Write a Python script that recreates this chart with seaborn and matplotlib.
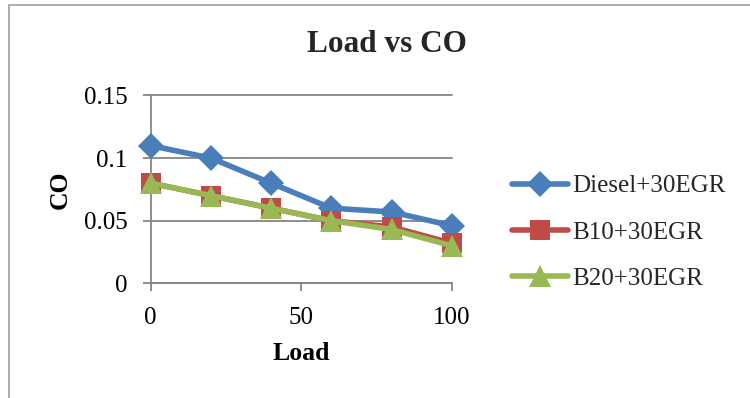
import matplotlib
matplotlib.use("Agg")
import matplotlib.pyplot as plt
import seaborn as sns
import pandas as pd
from matplotlib.patches import Rectangle
from matplotlib.ticker import FuncFormatter

load = [0, 20, 40, 60, 80, 100]
diesel = [0.11, 0.10, 0.08, 0.06, 0.057, 0.046]
b10 = [0.08, 0.07, 0.06, 0.05, 0.045, 0.032]
b20 = [0.08, 0.07, 0.06, 0.05, 0.043, 0.030]
series_names = ["Diesel+30EGR", "B10+30EGR", "B20+30EGR"]
colors = ["#4A7EBB", "#BE4B48", "#98B954"]
markers = ["D", "s", "^"]
msizes = [13, 14.5, 15.5]

sns.set_theme(style="white")
plt.rcParams["font.family"] = ["Liberation Serif", "DejaVu Serif"]

fig = plt.figure(figsize=(7.5, 3.98), dpi=100)
ax = fig.add_axes([150.7/750, 1-283.3/398, (451.7-150.7)/750, (283.3-95.5)/398])

for name, vals, c, m, ms in zip(series_names, [diesel, b10, b20], colors, markers, msizes):
    df = pd.DataFrame({"Load": load, "CO": vals})
    sns.lineplot(data=df, x="Load", y="CO", ax=ax, color=c, marker=m,
                 markersize=ms, linewidth=4.0, markeredgewidth=0,
                 label=name, clip_on=False, zorder=3)

ax.set_xlim(0, 100)
ax.set_ylim(0, 0.15)
ax.set_xticks([0, 50, 100])
ax.set_yticks([0, 0.05, 0.10, 0.15])
ax.yaxis.set_major_formatter(FuncFormatter(lambda v, p: "%g" % round(v, 3)))

gc = "#868686"
ax.yaxis.grid(True, color=gc, linewidth=1.3)
ax.xaxis.grid(False)
for gl in ax.get_ygridlines():
    gl.set_clip_on(False)
for s in ["top", "right"]:
    ax.spines[s].set_visible(False)
for s in ["left", "bottom"]:
    ax.spines[s].set_color(gc)
    ax.spines[s].set_linewidth(1.3)
ax.tick_params(axis="both", which="major", direction="out", length=5.8, width=1.3,
               color=gc, labelsize=18, labelcolor="black", left=True, bottom=True)
ax.tick_params(axis="y", pad=11)
ax.tick_params(axis="x", pad=11.5)

ax.set_xlabel("Load", fontsize=18.5, fontweight="bold", color="black")
ax.set_ylabel("CO", fontsize=18.5, fontweight="bold", color="black")
ax.xaxis.label.set_va("center")
ax.yaxis.label.set_va("center")
ax.xaxis.set_label_coords(301.2/750, 1-353/398, transform=fig.transFigure)
ax.yaxis.set_label_coords(60/750, 1-189.5/398, transform=fig.transFigure)

fig.text(386.5/750, 1-44/398, "Load vs CO", ha="center", va="center",
         fontsize=22.5, fontweight="bold")

handles, labels = ax.get_legend_handles_labels()
ax.legend(handles, labels, loc="center left", bbox_to_anchor=(512/750, 1-232.3/398),
          bbox_transform=fig.transFigure, frameon=False, fontsize=18,
          handlelength=2.24, handletextpad=0.15, labelspacing=0.95,
          borderpad=0, borderaxespad=0)

fig.patches.append(Rectangle((9/750, -0.05), 1.0, 1.05 - 5/398, transform=fig.transFigure,
                             fill=False, edgecolor="#A0A0A0", linewidth=1.2))

fig.savefig("out.png", dpi=100)
